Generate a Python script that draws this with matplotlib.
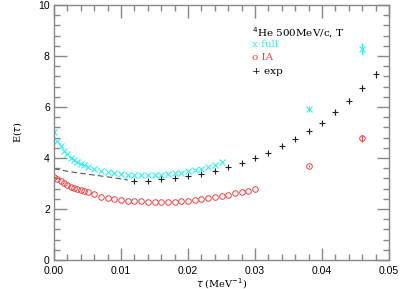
import matplotlib
matplotlib.use('Agg')
import matplotlib.pyplot as plt
import numpy as np
from matplotlib.ticker import MultipleLocator

# full calculation (cyan x)
tau_full = [0.0, 0.0005, 0.001, 0.0015, 0.002, 0.0025, 0.003, 0.0035, 0.004, 0.0045, 0.005,
            0.006, 0.007, 0.008, 0.009, 0.010, 0.011, 0.012, 0.013, 0.014, 0.015, 0.016,
            0.017, 0.018, 0.019, 0.020, 0.021, 0.022, 0.023, 0.024, 0.025]
E_full = [5.03, 4.66, 4.46, 4.29, 4.14, 4.01, 3.92, 3.83, 3.78, 3.72, 3.66,
          3.57, 3.49, 3.44, 3.40, 3.37, 3.35, 3.33, 3.33, 3.33, 3.33, 3.35,
          3.37, 3.40, 3.43, 3.48, 3.52, 3.58, 3.66, 3.74, 3.84]
tau_full_hi = [0.038, 0.046]
E_full_hi = [5.92, 8.27]
err_full_hi = [0.12, 0.25]

# impulse approximation (red o)
tau_ia = [0.0, 0.0005, 0.001, 0.0015, 0.002, 0.0025, 0.003, 0.0035, 0.004, 0.0045, 0.005,
          0.006, 0.007, 0.008, 0.009, 0.010, 0.011, 0.012, 0.013, 0.014, 0.015, 0.016,
          0.017, 0.018, 0.019, 0.020, 0.021, 0.022, 0.023, 0.024, 0.025, 0.026, 0.027,
          0.028, 0.029, 0.030]
E_ia = [3.24, 3.17, 3.10, 3.01, 2.93, 2.88, 2.81, 2.77, 2.73, 2.69, 2.66,
        2.58, 2.49, 2.43, 2.38, 2.35, 2.33, 2.31, 2.30, 2.29, 2.29, 2.29,
        2.29, 2.29, 2.30, 2.32, 2.35, 2.39, 2.43, 2.47, 2.51, 2.56, 2.61,
        2.65, 2.71, 2.77]
tau_ia_hi = [0.038, 0.046]
E_ia_hi = [3.69, 4.77]
err_ia_hi = [0.05, 0.15]

# experiment (black +)
tau_exp = [0.012, 0.014, 0.016, 0.018, 0.020, 0.022, 0.024, 0.026, 0.028, 0.030,
           0.032, 0.034, 0.036, 0.038, 0.040, 0.042, 0.044, 0.046, 0.048]
E_exp = [3.11, 3.11, 3.16, 3.20, 3.28, 3.38, 3.49, 3.63, 3.79, 4.01,
         4.21, 4.46, 4.75, 5.06, 5.39, 5.80, 6.25, 6.76, 7.29]
err_exp = [0.03, 0.03, 0.03, 0.03, 0.03, 0.04, 0.04, 0.04, 0.05, 0.05,
           0.06, 0.06, 0.07, 0.08, 0.08, 0.10, 0.10, 0.12, 0.14]

# dashed extrapolation
tau_dash = [0.0, 0.002, 0.004, 0.006, 0.008, 0.010, 0.011]
E_dash = [3.58, 3.48, 3.40, 3.33, 3.26, 3.18, 3.14]

plt.rcParams['font.family'] = ['Liberation Sans', 'DejaVu Sans']

fig = plt.figure(figsize=(4.01, 2.89), dpi=100)
ax = fig.add_axes([54/401, 29/289, 335/401, 255/289])

cyan = '#33f0f0'
red = '#f04040'

ax.plot(tau_dash, E_dash, ls=(0, (5, 3)), color='#555555', lw=0.8)
ax.plot(tau_full, E_full, 'x', color=cyan, ms=4.5, mew=0.8)
ax.errorbar(tau_full_hi, E_full_hi, yerr=err_full_hi, fmt='x', color=cyan, ms=4.5, mew=0.8,
            elinewidth=0.8, capsize=0)
ax.plot(tau_ia, E_ia, 'o', mfc='none', mec=red, ms=4, mew=0.7)
ax.errorbar(tau_ia_hi, E_ia_hi, yerr=err_ia_hi, fmt='o', mfc='none', mec=red, ecolor=red,
            ms=4, mew=0.7, elinewidth=0.7, capsize=0)
ax.errorbar(tau_exp, E_exp, yerr=err_exp, fmt='+', color='#222222', ms=5, mew=0.8,
            elinewidth=0.8, capsize=0)

ax.set_xlim(0, 0.05)
ax.set_ylim(0, 10)
ax.xaxis.set_major_locator(MultipleLocator(0.01))
ax.xaxis.set_minor_locator(MultipleLocator(0.002))
ax.yaxis.set_major_locator(MultipleLocator(2))
ax.yaxis.set_minor_locator(MultipleLocator(0.4))
ax.xaxis.set_major_formatter(matplotlib.ticker.FormatStrFormatter('%.2f'))
ax.tick_params(which='both', direction='in', top=True, right=True, colors='#888888',
               labelcolor='black', labelsize=7.5, width=1)
ax.tick_params(which='major', length=9)
ax.tick_params(which='minor', length=4)
ax.tick_params(axis='x', which='major', pad=4)
ax.tick_params(axis='y', which='major', pad=3)
for s in ax.spines.values():
    s.set_color('#888888')
    s.set_linewidth(1)

ax.set_xlabel(r'$\tau$ (MeV$^{-1}$)', family='DejaVu Serif', fontsize=7)
ax.xaxis.set_label_coords(0.5, -0.062)
ax.set_ylabel(r'E($\tau$)', family='DejaVu Serif', fontsize=7, labelpad=10)

tx = 0.59
ty = [0.892, 0.846, 0.794, 0.739]
ax.text(tx, ty[0], r'$^4$He 500MeV/c, T', transform=ax.transAxes, family='DejaVu Serif',
        fontsize=7.5, color='black', va='center')
ax.text(tx, ty[1], 'x full', transform=ax.transAxes, family='DejaVu Serif',
        fontsize=7.5, color=cyan, va='center')
ax.text(tx, ty[2], 'o IA', transform=ax.transAxes, family='DejaVu Serif',
        fontsize=7.5, color=red, va='center')
ax.text(tx, ty[3], '+ exp', transform=ax.transAxes, family='DejaVu Serif',
        fontsize=7.5, color='black', va='center')

fig.savefig('out.png', dpi=100)
